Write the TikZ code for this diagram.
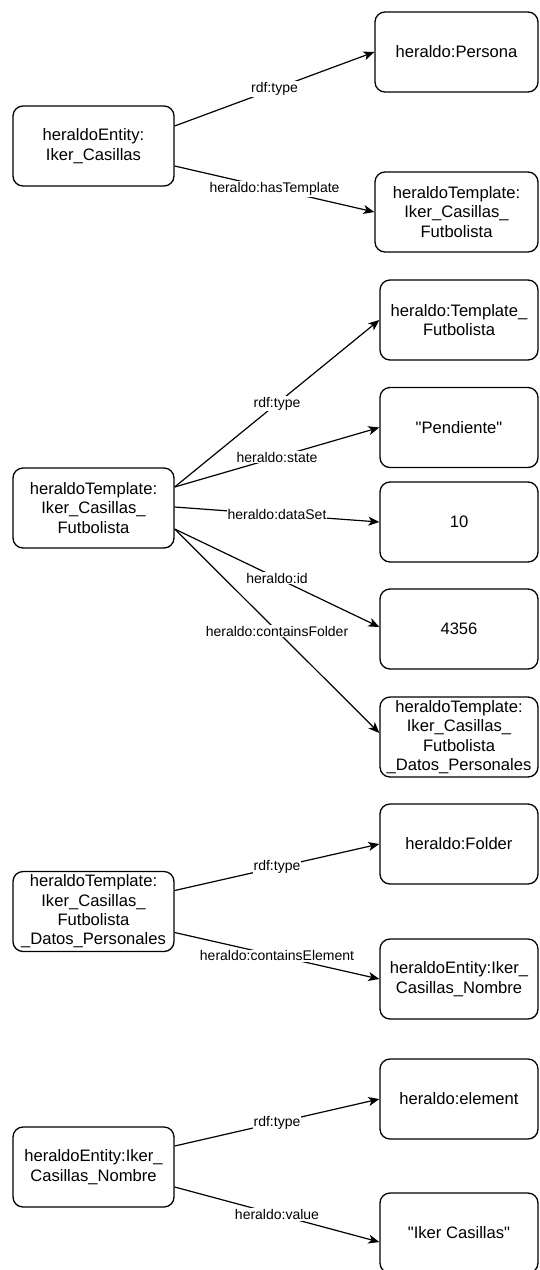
\documentclass[tikz,border=0pt]{standalone}
\usepackage{fontspec}
\setmainfont{Liberation Sans}[Ligatures=TeXOff]
\usetikzlibrary{arrows.meta}
\begin{document}
\begin{tikzpicture}[x=1pt,y=-1pt,
  box/.style={draw, line width=1.3pt, rounded corners=10pt, align=center,
    inner sep=0pt, minimum height=80pt, font=\fontsize{16.6}{19.3}\selectfont},
  lbox/.style={box, minimum width=161pt},
  rbox/.style={box, minimum width=158pt},
  rel/.style={draw, line width=1.2pt, -{Stealth[length=11pt,width=9pt,inset=3pt]}},
  lbl/.style={fill=white, inner sep=1pt, font=\fontsize{14}{16}\selectfont}]
\useasboundingbox (0,0) rectangle (539,1270);
\clip (0,0) rectangle (539,1270);

% entity and its template
\node[lbox] (ent) at (93.5,146) {heraldoEntity:\\Iker\_Casillas};
\node[box, minimum width=163pt] (persona) at (456.5,52) {heraldo:Persona};
\node[box, minimum width=163pt] (tpl) at (456.5,212) {heraldoTemplate:\\Iker\_Casillas\_\\Futbolista};
\draw[rel] ([yshift=20pt]ent.east) -- node[lbl] {rdf:type} (persona.west);
\draw[rel] ([yshift=-20pt]ent.east) -- node[lbl] {heraldo:hasTemplate} (tpl.west);

% template properties
\node[lbox] (tsrc) at (93.5,508) {heraldoTemplate:\\Iker\_Casillas\_\\Futbolista};
\node[rbox] (tfut) at (459,320) {heraldo:Template\_\\Futbolista};
\node[rbox] (state) at (459,427.5) {"Pendiente"};
\node[rbox] (dset) at (459,522) {10};
\node[rbox] (tid) at (459,629) {4356};
\node[rbox] (folder) at (459,737) {heraldoTemplate:\\Iker\_Casillas\_\\Futbolista\\\_Datos\_Personales};
\draw[rel] ([yshift=21pt]tsrc.east) -- node[lbl] {rdf:type} (tfut.west);
\draw[rel] ([yshift=21pt]tsrc.east) -- node[lbl] {heraldo:state} (state.west);
\draw[rel] ([yshift=1pt]tsrc.east) -- node[lbl] {heraldo:dataSet} (dset.west);
\draw[rel] ([yshift=-21pt]tsrc.east) -- node[lbl] {heraldo:id} ([yshift=2pt]tid.west);
\draw[rel] ([yshift=-21pt]tsrc.east) -- node[lbl] {heraldo:containsFolder} ([yshift=4pt]folder.west);

% folder and its element
\node[lbox] (fsrc) at (93.5,911.5) {heraldoTemplate:\\Iker\_Casillas\_\\Futbolista\\\_Datos\_Personales};
\node[rbox] (ftype) at (459,844) {heraldo:Folder};
\node[rbox] (elem) at (459,979) {heraldoEntity:Iker\_\\Casillas\_Nombre};
\draw[rel] ([yshift=21pt]fsrc.east) -- node[lbl] {rdf:type} (ftype.west);
\draw[rel] ([yshift=-21pt]fsrc.east) -- node[lbl] {heraldo:containsElement} (elem.west);

% element and its value
\node[lbox] (esrc) at (93.5,1167) {heraldoEntity:Iker\_\\Casillas\_Nombre};
\node[rbox] (etype) at (459,1099) {heraldo:element};
\node[rbox] (eval) at (459,1233) {"Iker Casillas"};
\draw[rel] ([yshift=21pt]esrc.east) -- node[lbl] {rdf:type} (etype.west);
\draw[rel] ([yshift=-20pt]esrc.east) -- node[lbl] {heraldo:value} ([yshift=-9pt]eval.west);
\end{tikzpicture}
\end{document}
